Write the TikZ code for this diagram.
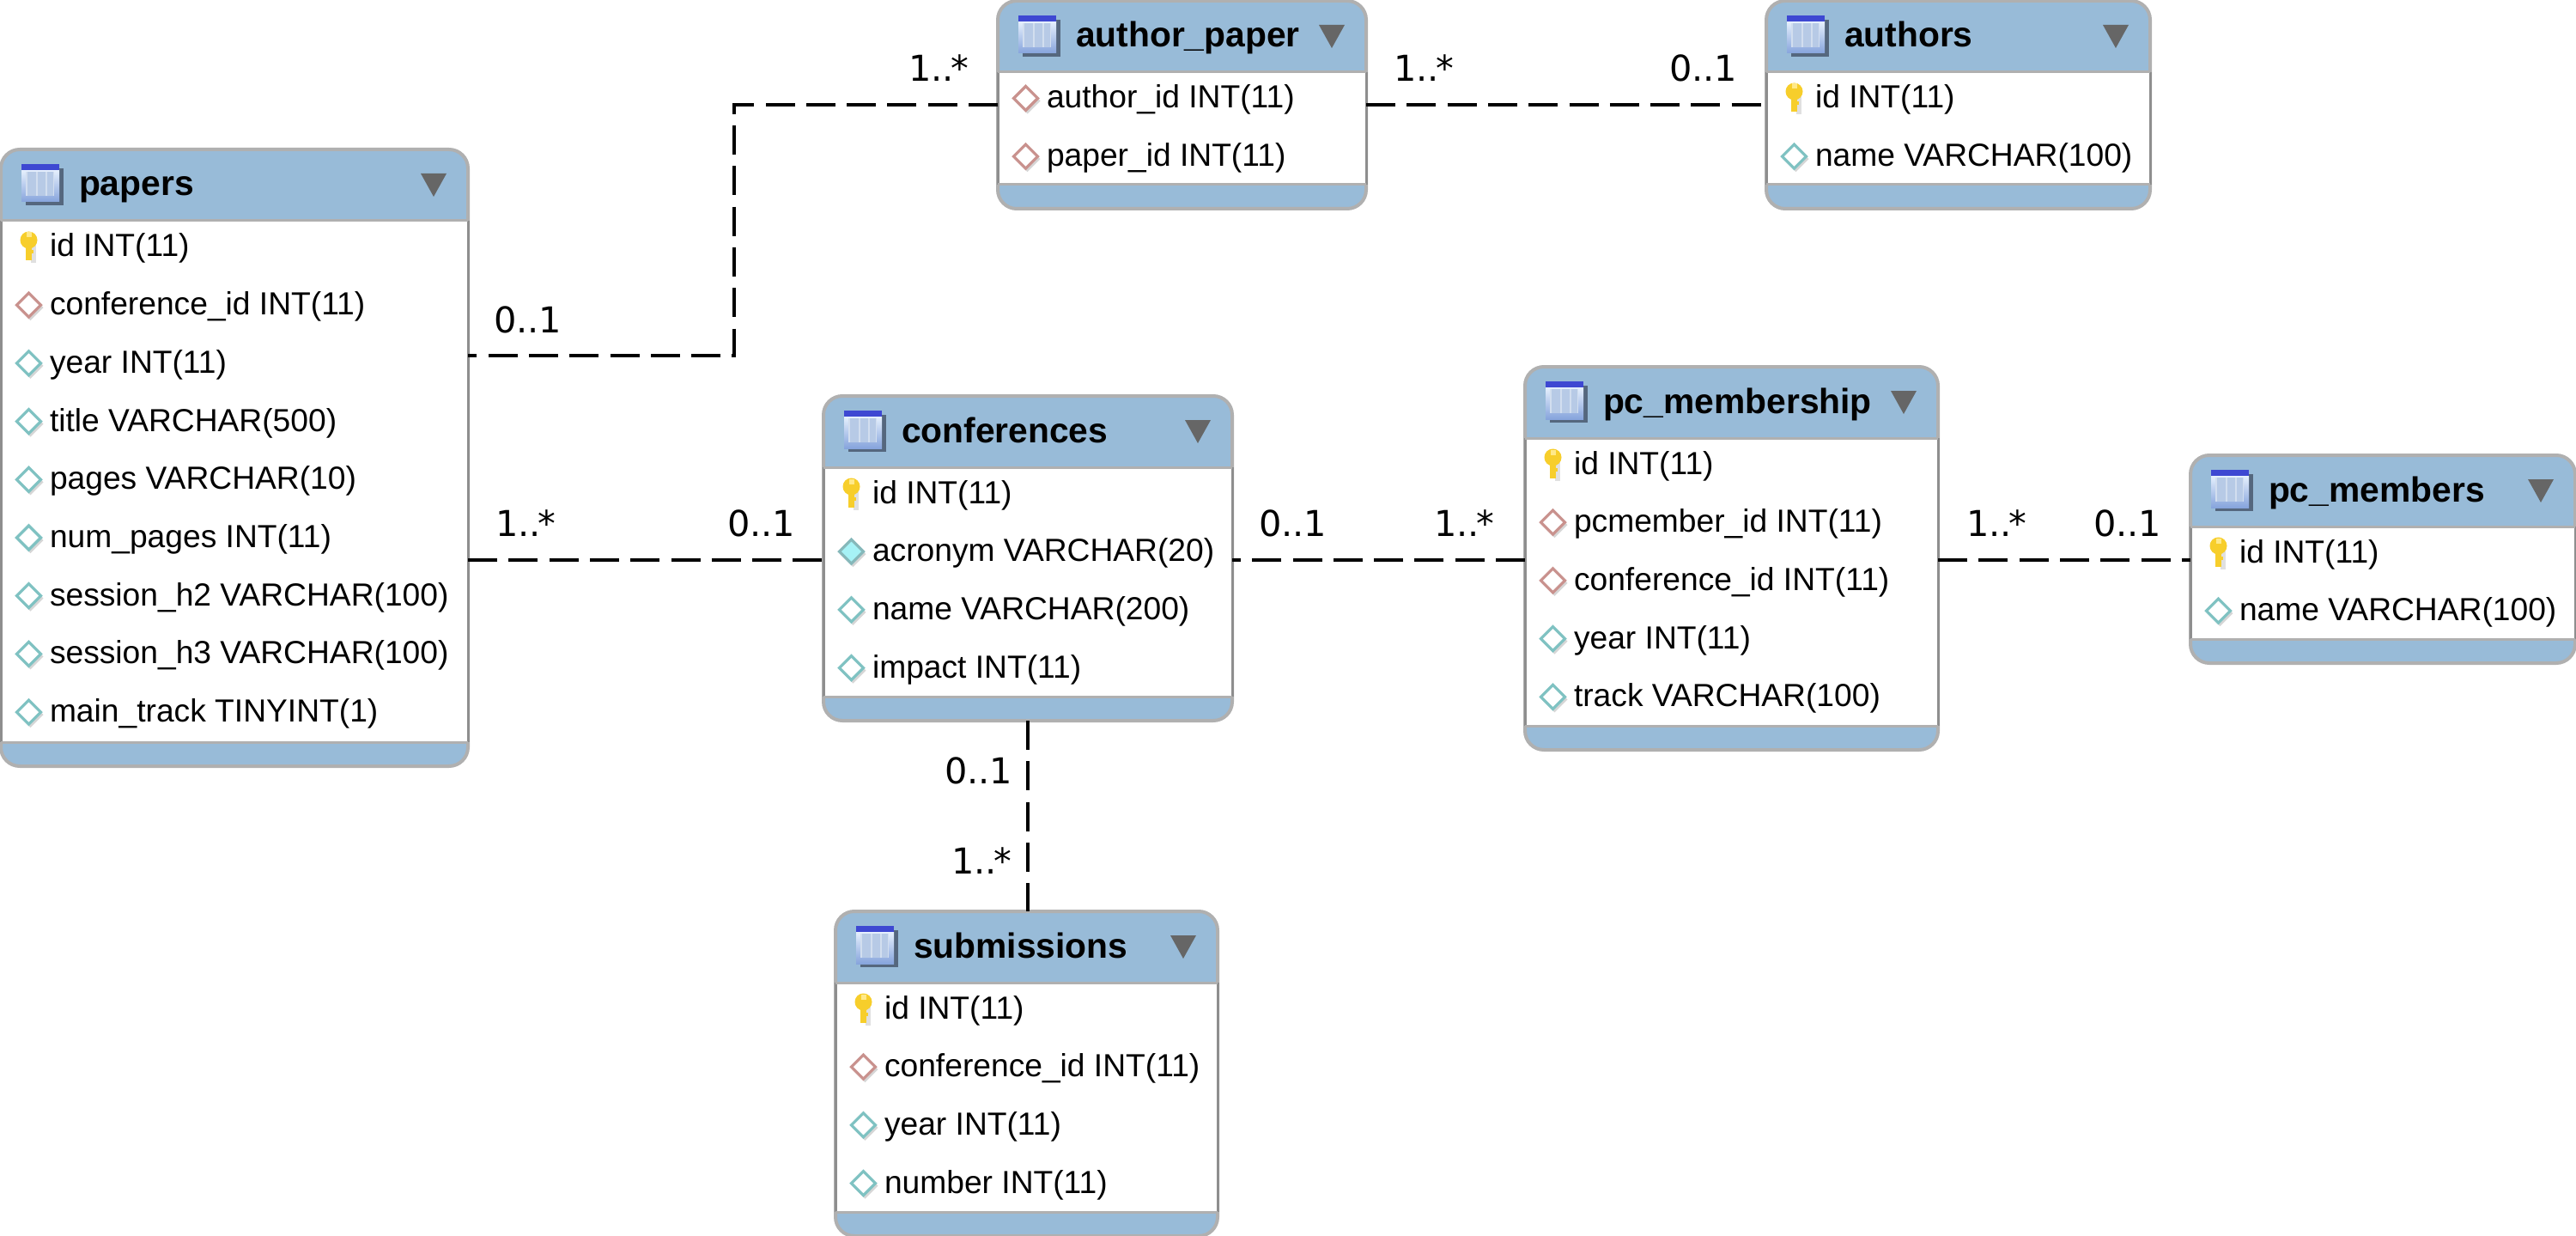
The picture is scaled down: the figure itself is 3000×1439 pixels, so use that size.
\documentclass[tikz,border=0pt]{standalone}
\usepackage{fontspec}
\setmainfont{Liberation Sans}
\newfontfamily\labelfont{DejaVu Sans}
\usetikzlibrary{calc}
\definecolor{hdrblue}{HTML}{98BBD8}
\definecolor{edgelight}{HTML}{B0B0B0}
\definecolor{edgedark}{HTML}{8E8E8E}
\definecolor{fkred}{HTML}{C9928E}
\definecolor{plainteal}{HTML}{7FC2C2}
\definecolor{indexteal}{HTML}{86B8BA}
\definecolor{indexfill}{HTML}{A6F2F6}
\definecolor{keygold}{HTML}{F7CE2B}
\definecolor{keypale}{HTML}{FFE98A}
\definecolor{iconblue}{HTML}{3E48D2}
\definecolor{iconshadow}{HTML}{55677E}
\definecolor{icontop}{HTML}{E6F0FD}
\definecolor{iconbottom}{HTML}{86A4DC}
\definecolor{iconpane}{HTML}{D2DEEF}
\definecolor{iconstripe}{HTML}{B7CAE6}
\tikzset{
  relation/.style={draw=black,line width=2pt,dash pattern=on 17pt off 6.65pt},
  tablebox/.style={draw=edgelight,fill=hdrblue,line width=2pt,rounded corners=11pt,inner sep=0pt,outer sep=0pt},
  titletext/.style={anchor=base west,inner sep=0pt,outer sep=0pt,font=\fontsize{20.4}{24}\selectfont\bfseries},
  rowtext/.style={anchor=base west,inner sep=0pt,outer sep=0pt,font=\fontsize{18.6}{22}\selectfont},
  cardinality/.style={anchor=base west,inner sep=0pt,outer sep=0pt,font=\fontsize{20.75}{24}\labelfont},
}
\newcommand{\manytext}{1..\kern-1.6pt*}
\newcommand{\plainmark}[3]{%
  \fill[black!16] (#1+2,#2-12) -- (#1+17,#2+3) -- (#1+2,#2+18) -- (#1-13,#2+3) -- cycle;
  \filldraw[draw=#3,fill=white,line width=1.6pt] (#1,#2-14) -- (#1+14,#2) -- (#1,#2+14) -- (#1-14,#2) -- cycle;}
\newcommand{\indexmark}[2]{%
  \fill[black!16] (#1+2,#2-12) -- (#1+17,#2+3) -- (#1+2,#2+18) -- (#1-13,#2+3) -- cycle;
  \filldraw[draw=indexteal,fill=indexfill,line width=1.6pt] (#1,#2-14) -- (#1+14,#2) -- (#1,#2+14) -- (#1-14,#2) -- cycle;}
\newcommand{\keymark}[2]{%
  \fill[black!12] (#1+2,#2-6) rectangle (#1+8,#2+19);
  \fill[keygold] (#1-4,#2-9) rectangle (#1+3,#2+16);
  \fill[keygold] (#1,#2-8) ellipse[x radius=5pt,y radius=5pt];
  \fill[keypale] (#1-3,#2-17) rectangle (#1+3,#2-11);
  \fill[keygold] (#1+3,#2+4) rectangle (#1+5,#2+8);}
\newcommand{\tableicon}[2]{%
  \fill[iconshadow] (#1+5,#2+5) rectangle (#1+49,#2+48);
  \shade[top color=icontop,bottom color=iconbottom] (#1,#2+7) rectangle (#1+44,#2+44);
  \fill[iconblue] (#1,#2) rectangle (#1+44,#2+7);
  \fill[iconpane] (#1+5,#2+9) rectangle (#1+38,#2+37);
  \fill[iconstripe] (#1+7,#2+9) rectangle (#1+17,#2+37);
  \fill[iconstripe] (#1+19,#2+9) rectangle (#1+28,#2+37);
  \fill[iconstripe] (#1+30,#2+9) rectangle (#1+37,#2+37);}
% #1 name, #2 title, #3 left, #4 right, #5 top, #6 number of rows, #7 rows kind/text
\newcommand{\dbtable}[7]{%
  \pgfmathsetmacro{\tw}{#4-#3}
  \pgfmathsetmacro{\th}{106+68*#6}
  \pgfmathsetmacro{\cx}{(#3+#4)/2}
  \pgfmathsetmacro{\cy}{#5+\th/2}
  \pgfmathsetmacro{\hb}{#5+83}
  \pgfmathsetmacro{\fb}{#5+\th-28}
  \pgfmathsetmacro{\icx}{#3+24}
  \pgfmathsetmacro{\icy}{#5+17}
  \node[tablebox,minimum width=\tw*0.5pt,minimum height=\th*0.5pt] (#1) at (\cx,\cy) {};
  \fill[white] (#3,\hb) rectangle (#4,\fb);
  \draw[edgedark,line width=1.5pt] (#3,\hb) -- (#3,\fb) (#4,\hb) -- (#4,\fb);
  \draw[edgelight,line width=1.5pt] (#3,\hb) -- (#4,\hb) (#3,\fb) -- (#4,\fb);
  \tableicon{\icx}{\icy}
  \node[titletext] (#1-title) at (#3+91,#5+54) {#2};
  \fill[black!60] (#4-55,#5+28) -- (#4-25,#5+28) -- (#4-40,#5+55) -- cycle;
  \foreach \kind/\txt [count=\i from 0] in {#7} {
    \pgfmathsetmacro{\by}{#5+125+67.7*\i}
    \pgfmathsetmacro{\iy}{#5+113.5+67.7*\i}
    \pgfmathsetmacro{\ix}{#3+32.5}
    \ifnum\kind=0 \keymark{\ix}{\iy}\fi
    \ifnum\kind=1 \plainmark{\ix}{\iy}{fkred}\fi
    \ifnum\kind=2 \plainmark{\ix}{\iy}{plainteal}\fi
    \ifnum\kind=3 \indexmark{\ix}{\iy}\fi
    \node[rowtext] (#1-r\i) at (#3+57,\by) {\txt};
  }
}
\begin{document}
\begin{tikzpicture}[x=0.5pt,y=-0.5pt]
\useasboundingbox (0,0) rectangle (3000,1439);
\coordinate (midrow) at (0,652);
\coordinate (toprow) at (0,122);
\coordinate (paperrow) at (0,414);
\coordinate (bend) at (855,122);

\dbtable{papers}{papers}{1}{545}{174}{9}{0/id INT(11),1/conference\_id INT(11),2/year INT(11),2/title VARCHAR(500),2/pages VARCHAR(10),2/num\_pages INT(11),2/session\_h2 VARCHAR(100),2/session\_h3 VARCHAR(100),2/main\_track TINYINT(1)}
\dbtable{authorpaper}{author\_paper}{1162}{1591}{1}{2}{1/author\_id INT(11),1/paper\_id INT(11)}
\dbtable{authors}{authors}{2057}{2504}{1}{2}{0/id INT(11),2/name VARCHAR(100)}
\dbtable{conferences}{conferences}{959}{1435}{461}{4}{0/id INT(11),3/acronym VARCHAR(20),2/name VARCHAR(200),2/impact INT(11)}
\dbtable{pcmembership}{pc\_membership}{1776}{2257}{427}{5}{0/id INT(11),1/pcmember\_id INT(11),1/conference\_id INT(11),2/year INT(11),2/track VARCHAR(100)}
\dbtable{pcmembers}{pc\_members}{2551}{2999}{530}{2}{0/id INT(11),2/name VARCHAR(100)}
\dbtable{submissions}{submissions}{973}{1418}{1061}{4}{0/id INT(11),1/conference\_id INT(11),2/year INT(11),2/number INT(11)}

\draw[relation] (authorpaper.west |- toprow) -- (bend) -- (bend |- paperrow) -- (papers.east |- paperrow);
\draw[relation] (authorpaper.east |- toprow) -- (authors.west |- toprow);
\draw[relation] (papers.east |- midrow) -- (conferences.west |- midrow);
\draw[relation] (pcmembership.west |- midrow) -- (conferences.east |- midrow);
\draw[relation] (pcmembership.east |- midrow) -- (pcmembers.west |- midrow);
\draw[relation] (conferences.south) -- (conferences.south |- submissions.north);

\node[cardinality] (c1) at (575,387) {0..1};
\node[cardinality] (c2) at (1058,95) {\manytext};
\node[cardinality] (c3) at (1623,95) {\manytext};
\node[cardinality] (c4) at (1944,95) {0..1};
\node[cardinality] (c5) at (577,624) {\manytext};
\node[cardinality] (c6) at (847,624) {0..1};
\node[cardinality] (c7) at (1466,624) {0..1};
\node[cardinality] (c8) at (1670,624) {\manytext};
\node[cardinality] (c9) at (2290,624) {\manytext};
\node[cardinality] (c10) at (2438,624) {0..1};
\node[cardinality] (c11) at (1100,912) {0..1};
\node[cardinality] (c12) at (1108,1017) {\manytext};
\end{tikzpicture}
\end{document}
